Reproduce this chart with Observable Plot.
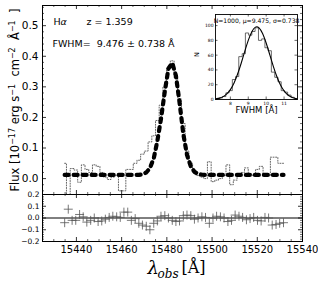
<!DOCTYPE html>
<html><head><meta charset="utf-8">
<script src="https://cdn.jsdelivr.net/npm/d3@7"></script>
<script src="https://cdn.jsdelivr.net/npm/@observablehq/plot@0.6"></script>
<style>
body{margin:0;background:#fff;}
#fig{position:relative;width:318px;height:282px;overflow:hidden;background:#fff;}
#fig svg{position:absolute;}
</style></head><body><div id="fig"></div>
<script>
// ---- spectrum (observed wavelength pixels) ----
const wavelength = [15434.8, 15436.4, 15438.1, 15439.7, 15441.4, 15443.0, 15444.6, 15446.3, 15447.9, 15449.6,
  15451.2, 15452.8, 15454.5, 15456.1, 15457.8, 15459.4, 15461.0, 15462.7, 15464.3, 15466.0,
  15467.6, 15469.2, 15470.9, 15472.5, 15474.2, 15475.8, 15477.4, 15479.1, 15480.7, 15482.4,
  15484.0, 15485.6, 15487.3, 15488.9, 15490.6, 15492.2, 15493.8, 15495.5, 15497.1, 15498.8,
  15500.4, 15502.0, 15503.7, 15505.3, 15507.0, 15508.6, 15510.2, 15511.9, 15513.5, 15515.2,
  15516.8, 15518.4, 15520.1, 15521.7, 15523.4, 15525.0, 15526.6, 15528.3, 15529.9, 15531.6];
const observedFlux = [0.050, -0.060, 0.033, 0.028, -0.012, 0.045, 0.030, 0.020, 0.045, 0.040,
  0.020, 0.005, -0.003, 0.005, 0.010, -0.040, -0.040, 0.030, 0.030, 0.050,
  0.060, 0.080, 0.090, 0.120, 0.140, 0.190, 0.240, 0.300, 0.360, 0.385,
  0.330, 0.260, 0.180, 0.090, 0.050, 0.026, 0.010, 0.005, 0.000, 0.055,
  -0.010, -0.005, 0.000, 0.010, 0.045, -0.020, -0.005, 0.010, 0.020, 0.035,
  0.015, 0.010, 0.030, 0.040, 0.015, 0.010, 0.070, 0.070, 0.050, 0.050];
const modelFlux = [0.012, 0.012, 0.012, 0.012, 0.012, 0.012, 0.012, 0.012, 0.012, 0.012,
  0.012, 0.012, 0.012, 0.012, 0.012, 0.012, 0.012, 0.012, 0.012, 0.012,
  0.012, 0.014, 0.020, 0.034, 0.066, 0.123, 0.195, 0.285, 0.360, 0.378,
  0.337, 0.250, 0.145, 0.078, 0.040, 0.022, 0.015, 0.013, 0.012, 0.012,
  0.012, 0.012, 0.012, 0.012, 0.012, 0.012, 0.012, 0.012, 0.012, 0.012,
  0.012, 0.012, 0.012, 0.012, 0.012, 0.012, 0.012, 0.012, 0.012, 0.012];
const residualFlux = [-0.040, 0.075, -0.020, -0.020, 0.030, 0.010, -0.035, -0.020, 0.000, -0.030,
  -0.025, -0.010, 0.005, 0.015, 0.010, 0.005, 0.050, 0.050, -0.020, -0.005,
  -0.045, -0.060, -0.070, -0.100, -0.045, -0.025, 0.015, 0.020, 0.000, -0.020,
  -0.030, -0.025, 0.020, 0.025, 0.020, -0.010, 0.000, 0.010, 0.005, -0.045,
  0.000, 0.015, 0.010, 0.000, -0.030, -0.020, 0.025, 0.015, 0.005, -0.015,
  -0.005, 0.005, -0.020, -0.025, 0.005, 0.000, -0.060, -0.055, -0.045, -0.040];
const mainXTicks = [15440, 15460, 15480, 15500, 15520, 15540];
const mainYTicks = [0, 0.1, 0.2, 0.3, 0.4, 0.5];
const residYTicks = [-0.2, -0.1, 0, 0.1, 0.2];

// ---- inset: Monte-Carlo FWHM histogram ----
const fwhmBinEdges = [7.20, 7.38, 7.56, 7.75, 7.93, 8.11, 8.29, 8.47, 8.66, 8.84, 9.02, 9.20, 9.38,
  9.57, 9.75, 9.93, 10.11, 10.29, 10.48, 10.66, 10.84, 11.02, 11.20, 11.39, 11.57, 11.75];
const fwhmCounts = [1, 2, 4, 9, 12, 27, 31, 58, 62, 90, 87, 92, 97, 80, 82, 70, 66, 37, 30, 24, 12, 10, 6, 3, 1];
const fitFWHM = [7.2, 7.4, 7.6, 7.8, 8.0, 8.2, 8.4, 8.6, 8.8, 9.0, 9.2, 9.4, 9.6, 9.8, 10.0,
  10.2, 10.4, 10.6, 10.8, 11.0, 11.2, 11.4, 11.6, 11.8];
const fitN = [0.9, 1.9, 3.9, 7.5, 13.4, 22.1, 34.1, 48.7, 64.8, 80.0, 91.8, 97.9, 97.0, 89.3, 76.4,
  60.7, 44.9, 30.8, 19.6, 11.6, 6.4, 3.3, 1.6, 0.7];
const insetXTicks = [8, 9, 10, 11];
const insetYTicks = [0, 20, 40, 60, 80, 100];

// ---- tables ----
const spec = wavelength.map((w, i) => ({w, obs: observedFlux[i], model: modelFlux[i], resid: residualFlux[i]}));
const hist = [{x: fwhmBinEdges[0], n: 0}]
  .concat(fwhmCounts.map((n, i) => ({x: fwhmBinEdges[i], n})))
  .concat([{x: fwhmBinEdges[fwhmBinEdges.length - 1], n: 0}]);
const fit = fitFWHM.map((x, i) => ({x, n: fitN[i]}));

const minorMainX = d3.range(15425, 15541, 5).filter(v => v % 20 !== 0);
const minorMainY = d3.range(-4, 57, 2).filter(v => v % 10 !== 0).map(v => v / 100);
const minorResY = d3.range(-20, 21, 2).filter(v => v % 10 !== 0).map(v => v / 100);

const baseStyle = {fontFamily: "'DejaVu Sans', sans-serif", background: "transparent", overflow: "visible", color: "black"};
const fmt1 = d => (d < 0 ? "\u2212" : "") + Math.abs(d).toFixed(1);

function inwardTicks(xs, ys, fw, fh, len, sw) {
  const o = {stroke: "black", strokeWidth: sw};
  return [
    Plot.tickX(xs, {x: d => d, insetTop: fh - len, ...o}),
    Plot.tickX(xs, {x: d => d, insetBottom: fh - len, ...o}),
    Plot.tickY(ys, {y: d => d, insetRight: fw - len, ...o}),
    Plot.tickY(ys, {y: d => d, insetLeft: fw - len, ...o})
  ];
}

// ---- main panel ----
const ML = 42, MR = 16;
const FW = 318 - ML - MR;
const main = Plot.plot({
  width: 318, height: 195, marginLeft: ML, marginRight: MR, marginTop: 5, marginBottom: 1,
  style: baseStyle,
  x: {domain: [15425, 15540], axis: null},
  y: {domain: [-0.052, 0.566]},
  marks: [
    Plot.line(spec, {x: "w", y: "obs", curve: "step", stroke: "#555", strokeWidth: 0.9, strokeDasharray: "1,1.6", clip: true}),
    Plot.line(spec, {x: "w", y: "model", stroke: "black", strokeWidth: 4.2, strokeDasharray: "4,5"}),
    ...inwardTicks(mainXTicks, mainYTicks, FW, 189, 4, 0.8),
    ...inwardTicks(minorMainX, minorMainY, FW, 189, 2, 0.6),
    Plot.axisY(mainYTicks, {anchor: "left", tickSize: 0, tickPadding: 4, fontSize: 10.5, tickFormat: fmt1, label: null}),
    Plot.frame({stroke: "black", strokeWidth: 1}),
    Plot.text(["Flux [10|\u221217| erg s|\u22121|  cm|\u22122|  \u00C5|\u22121|  ]"], {text: d => d, frameAnchor: "left", dx: -27, rotate: -90, fontSize: 11.5, textAnchor: "middle", lineAnchor: "middle"}),
    Plot.text(["H"], {text: d => d, frameAnchor: "top-left", dx: 11, dy: 16, fontSize: 9.5, lineAnchor: "middle"}),
    Plot.text(["\u03B1"], {text: d => d, frameAnchor: "top-left", dx: 18, dy: 16, fontSize: 9.5, fontStyle: "italic", lineAnchor: "middle"}),
    Plot.text(["z = 1.359"], {text: d => d, frameAnchor: "top-left", dx: 44, dy: 16, fontSize: 9.5, lineAnchor: "middle"}),
    Plot.text(["FWHM=\u00A0\u00A09.476 \u00B1 0.738 \u00C5"], {text: d => d, frameAnchor: "top-left", dx: 10, dy: 38.5, fontSize: 9.5, lineAnchor: "middle"})
  ]
});

// turn the "|...|" segments of the flux label into real superscript tspans
d3.select(main).selectAll("text").each(function () {
  const t = this.textContent;
  if (!t.startsWith("Flux")) return;
  const parts = t.split("|");
  const sel = d3.select(this);
  sel.text(null);
  parts.forEach((p, i) => {
    const sup = i % 2 === 1;
    const ts = sel.append("tspan").text(p.replace(/ /g, "\u00A0"));
    if (sup) ts.attr("font-size", 8).attr("dy", -4.5);
    else if (i > 0) ts.attr("dy", 4.5);
  });
});

// ---- residual panel ----
const resid = Plot.plot({
  width: 318, height: 92, marginLeft: ML, marginRight: MR, marginTop: 4, marginBottom: 41,
  style: baseStyle,
  x: {domain: [15425, 15540]},
  y: {domain: [-0.2, 0.2]},
  marks: [
    Plot.ruleY([0], {stroke: "black", strokeWidth: 1}),
    Plot.dot(spec, {x: "w", y: "resid", symbol: "plus", r: 3, stroke: "#555", strokeWidth: 0.8}),
    ...inwardTicks(mainXTicks, residYTicks, FW, 47, 4, 0.8),
    ...inwardTicks(minorMainX, minorResY, FW, 47, 2, 0.6),
    Plot.axisX(mainXTicks, {anchor: "bottom", tickSize: 0, tickPadding: 4, fontSize: 10, tickFormat: d => String(d), label: null}),
    Plot.axisY(residYTicks, {anchor: "left", tickSize: 0, tickPadding: 3, fontSize: 7.5, tickFormat: fmt1, label: null}),
    Plot.frame({stroke: "black", strokeWidth: 1}),
    Plot.text(["\u03BB"], {text: d => d, frameAnchor: "bottom", dx: -25, dy: 27, fontSize: 18, fontStyle: "italic", fontFamily: "'DejaVu Serif', serif", textAnchor: "start", lineAnchor: "middle"}),
    Plot.text(["obs"], {text: d => d, frameAnchor: "bottom", dx: -15, dy: 33, fontSize: 12, fontStyle: "italic", fontFamily: "'DejaVu Serif', serif", textAnchor: "start", lineAnchor: "middle"}),
    Plot.text(["[\u00C5]"], {text: d => d, frameAnchor: "bottom", dx: 9, dy: 26, fontSize: 16, fontFamily: "'DejaVu Serif', serif", textAnchor: "start", lineAnchor: "middle"})
  ]
});

// ---- inset ----
const inset = Plot.plot({
  width: 124, height: 124, marginLeft: 30, marginRight: 12, marginTop: 14, marginBottom: 25,
  style: baseStyle,
  x: {domain: [7.17, 11.75]},
  y: {domain: [0, 115]},
  marks: [
    Plot.frame({fill: "white", stroke: "none"}),
    Plot.line(hist, {x: "x", y: "n", curve: "step-after", stroke: "#444", strokeWidth: 0.8}),
    Plot.line(fit, {x: "x", y: "n", curve: "natural", stroke: "black", strokeWidth: 1.1, clip: true}),
    ...inwardTicks(insetXTicks, insetYTicks, 82, 85, 2.5, 0.6),
    Plot.axisX(insetXTicks, {anchor: "bottom", tickSize: 0, tickPadding: 2.5, fontSize: 4.5, label: null}),
    Plot.axisY(insetYTicks, {anchor: "left", tickSize: 0, tickPadding: 2, fontSize: 4.5, label: null}),
    Plot.frame({stroke: "black", strokeWidth: 0.9}),
    Plot.text(["N=1000, \u03BC=9.475, \u03C3=0.738"], {text: d => d, frameAnchor: "top", dy: 7, fontSize: 6.1, lineAnchor: "middle"}),
    Plot.text(["N"], {text: d => d, frameAnchor: "left", dx: -19, rotate: -90, fontSize: 6.5, lineAnchor: "middle"}),
    Plot.text(["FWHM [\u00C5]"], {text: d => d, frameAnchor: "bottom", dy: 11, fontSize: 8.5, lineAnchor: "middle"})
  ]
});

const fig = document.getElementById("fig");
main.style.left = "0px"; main.style.top = "0px";
resid.style.left = "0px"; resid.style.top = "190px";
inset.style.left = "185px"; inset.style.top = "0px";
fig.appendChild(main);
fig.appendChild(resid);
fig.appendChild(inset);
</script>
</body></html>
